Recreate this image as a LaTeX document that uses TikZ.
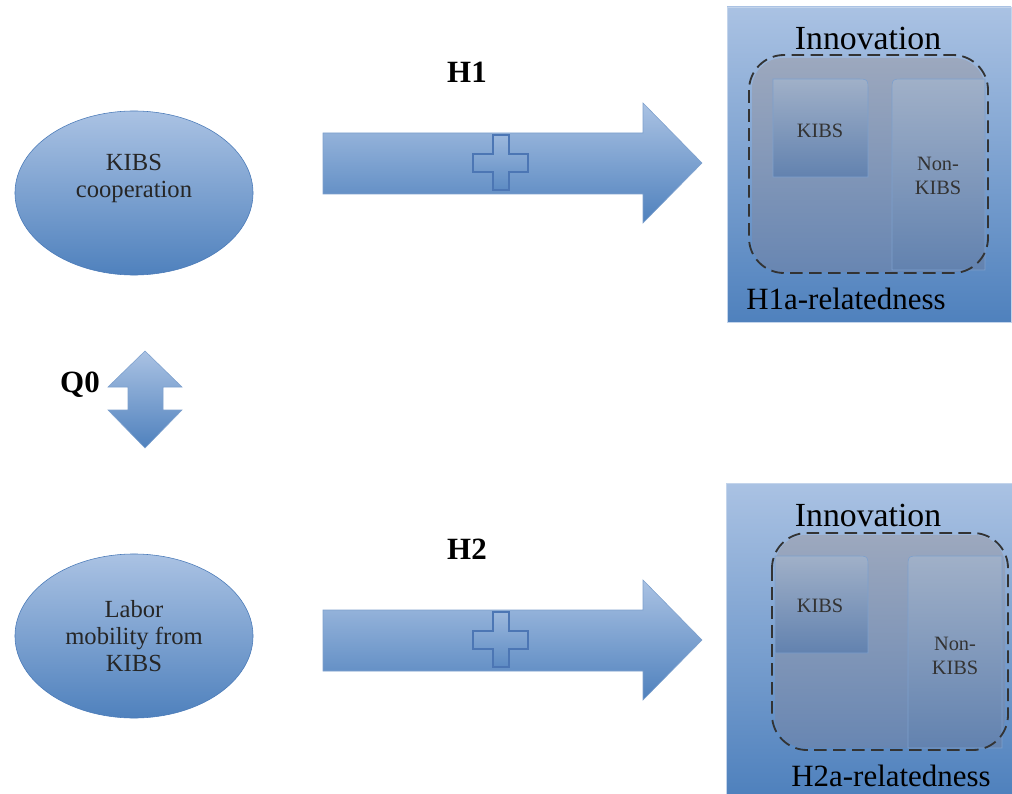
\documentclass[tikz,border=0pt]{standalone}
\usepackage{fontspec}
\setmainfont{Liberation Serif}
\usetikzlibrary{shapes.geometric}
\usetikzlibrary{positioning}

\definecolor{paleblue}{RGB}{170,194,227}
\definecolor{deepblue}{RGB}{79,129,189}
\definecolor{edgeblue}{RGB}{74,122,184}
\definecolor{lineblue}{RGB}{125,160,205}
\definecolor{plusblue}{RGB}{76,118,180}
\definecolor{greytop}{RGB}{156,168,190}
\definecolor{greybot}{RGB}{104,134,178}
\definecolor{subtop}{RGB}{160,176,200}
\definecolor{subbot}{RGB}{98,130,175}

\begin{document}
\begin{tikzpicture}[x=0.025cm,y=-0.025cm,
	factor/.style={ellipse,draw=edgeblue,thin,top color=paleblue,bottom color=deepblue,
		minimum width=5.95cm,minimum height=4.1cm,align=center,
		font=\fontsize{17.5}{19}\selectfont,text=black!85},
	blockarrow/.style={draw=lineblue,thin,top color=paleblue,bottom color=deepblue},
	plussign/.style={draw=plusblue,line width=0.9pt,top color=paleblue!85!deepblue,bottom color=deepblue!85!paleblue},
	outcome/.style={draw=paleblue!70,thin,top color=paleblue,bottom color=deepblue},
	sector/.style={draw=lineblue,thin,top color=subtop,bottom color=subbot},
	hyp/.style={font=\bfseries\fontsize{22}{26}\selectfont},
	title/.style={font=\fontsize{24}{28}\selectfont},
	small/.style={font=\fontsize{14.5}{17}\selectfont,text=black!80,align=center},
	group/.style={black!80,line width=1.3pt,dash pattern=on 9pt off 4.5pt,rounded corners=25}]

	\useasboundingbox (0,0) rectangle (1012,794);

	% left side
	\node[factor] (coop) at (134,193) {KIBS\\cooperation\\\strut};
	\node[factor] (mob) at (134,636) {Labor\\mobility from\\KIBS};

	\path[blockarrow] (145,351) -- (182,387) -- (163,387) -- (163,410) -- (182,410)
		-- (145,448) -- (108,410) -- (128,410) -- (128,387) -- (108,387) -- cycle;
	\node[hyp] (q0) at (80,385) {Q0};

	% arrows with plus
	\foreach \dy/\lab in {0/H1,477/H2}{
		\begin{scope}[shift={(0,\dy)}]
			\path[blockarrow] (323,133) -- (643,133) -- (643,103) -- (702,163) -- (643,223)
				-- (643,194) -- (323,194) -- cycle;
			\path[plussign] (493,135) -- (509,135) -- (509,154) -- (528,154) -- (528,172)
				-- (509,172) -- (509,190) -- (493,190) -- (493,172) -- (473,172) -- (473,154)
				-- (493,154) -- cycle;
			\node[hyp] at (467,72) {\lab};
		\end{scope}
	}

	% top outcome box
	\path[outcome] (727,7) rectangle (1011,322);
	\path[top color=greytop,bottom color=greybot,rounded corners=22] (752,58) rectangle (985,272);
	\path[sector] (773,177) -- (773,79) -- (856,79) .. controls (868,79) .. (868,91) -- (868,177) -- cycle;
	\path[sector] (892,270) -- (892,91) .. controls (892,79) .. (904,79) -- (985,79) -- (985,270) -- cycle;
	\draw[group] (749,55) rectangle (988,273);
	\node[title] (innov1) at (868,38) {Innovation};
	\node[small] (kibs1) at (820,131) {KIBS};
	\node[small] (non1) at (938,176) {Non-\\KIBS};
	\node[title,font=\fontsize{22}{26}\selectfont] (rel1) at (846,299) {H1a-relatedness};

	% bottom outcome box
	\path[outcome] (726,483) rectangle (1012,794);
	\path[top color=greytop,bottom color=greybot,rounded corners=22] (775,535) rectangle (1005,748);
	\path[sector] (775,653) -- (775,556) -- (856,556) .. controls (868,556) .. (868,568) -- (868,653) -- cycle;
	\path[sector] (908,748) -- (908,568) .. controls (908,556) .. (920,556) -- (1002,556) -- (1002,748) -- cycle;
	\draw[group] (772,533) rectangle (1008,750);
	\node[title] (innov2) at (868,515) {Innovation};
	\node[small] (kibs2) at (820,606) {KIBS};
	\node[small] (non2) at (955,656) {Non-\\KIBS};
	\node[title,font=\fontsize{22}{26}\selectfont] (rel2) at (891,776) {H2a-relatedness};
\end{tikzpicture}
\end{document}
